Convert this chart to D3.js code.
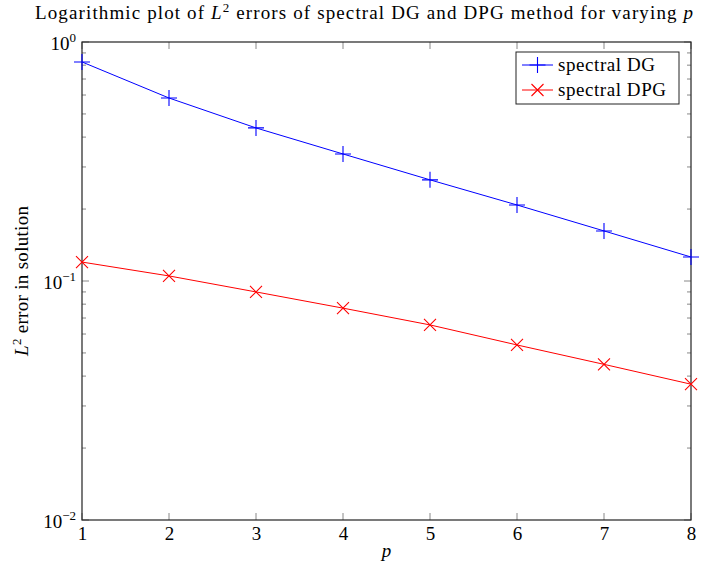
<!DOCTYPE html>
<html>
<head>
<meta charset="utf-8">
<script src="https://cdn.jsdelivr.net/npm/d3@7"></script>
<style>
    body { margin: 0; background: #fff; }
    svg text { font-family: "Liberation Serif", "DejaVu Serif", serif; fill: #000; }
    .axis path, .axis line { stroke: #333; }
    .tick text { font-size: 19px; font-family: "Liberation Serif", serif; }
</style>
</head>
<body>
<div class="chart-ctn"></div>
<script>
const pValues = [1, 2, 3, 4, 5, 6, 7, 8];
const dgErrors = [0.825, 0.583, 0.437, 0.340, 0.265, 0.208, 0.162, 0.126];
const dpgErrors = [0.120, 0.105, 0.090, 0.077, 0.0655, 0.054, 0.0448, 0.037];
const yTickExps = [0, -1, -2];

const w = 701, h = 565;
const padding = { left: 82, right: 10, top: 42, bottom: 45 };

let svg = d3.select('.chart-ctn')
    .append('svg')
    .attr('width', w)
    .attr('height', h);

let x = d3.scaleLinear()
    .domain([1, 8])
    .range([padding.left, w - padding.right]);

let y = d3.scaleLog()
    .domain([0.01, 1])
    .range([h - padding.bottom, padding.top]);

// minor log ticks
const minorTicks = [];
[0.01, 0.1].forEach(base => {
    for (let k = 2; k <= 9; k++) minorTicks.push(base * k);
});

const x0 = x.range()[0], x1 = x.range()[1];
const y0 = y.range()[0], y1 = y.range()[1];

const ticks = svg.append('g').attr('stroke', '#888').attr('stroke-width', 1);
minorTicks.forEach(v => {
    ticks.append('line').attr('x1', x0).attr('x2', x0 + 4).attr('y1', y(v)).attr('y2', y(v));
    ticks.append('line').attr('x1', x1).attr('x2', x1 - 4).attr('y1', y(v)).attr('y2', y(v));
});
yTickExps.forEach(e => {
    const v = Math.pow(10, e);
    ticks.append('line').attr('x1', x0).attr('x2', x0 + 7).attr('y1', y(v)).attr('y2', y(v));
    ticks.append('line').attr('x1', x1).attr('x2', x1 - 7).attr('y1', y(v)).attr('y2', y(v));
});
pValues.forEach(p => {
    ticks.append('line').attr('x1', x(p)).attr('x2', x(p)).attr('y1', y0).attr('y2', y0 - 7);
    ticks.append('line').attr('x1', x(p)).attr('x2', x(p)).attr('y1', y1).attr('y2', y1 + 7);
});

// frame
svg.append('rect')
    .attr('x', x0).attr('y', y1)
    .attr('width', x1 - x0).attr('height', y0 - y1)
    .attr('fill', 'none')
    .attr('stroke', '#222')
    .attr('stroke-width', 1.2);

// x tick labels
const xAxis = d3.axisBottom(x).tickValues(pValues).tickSize(0).tickPadding(7).tickFormat(d3.format('d'));
svg.append('g')
    .attr('class', 'axis')
    .attr('transform', 'translate(0,' + y0 + ')')
    .call(xAxis)
    .call(g => g.select('.domain').remove());

// y tick labels 10^e
yTickExps.forEach(e => {
    const t = svg.append('text')
        .attr('x', x0 - 6)
        .attr('y', y(Math.pow(10, e)) + 8)
        .attr('text-anchor', 'end')
        .style('font-size', '19px');
    t.append('tspan').text('10');
    t.append('tspan').attr('dy', -8).style('font-size', '13px').text(e === 0 ? '0' : '\u2212' + Math.abs(e));
});

// lines
const series = [
    { name: 'spectral DG', data: dgErrors, color: '#0000ff', marker: 'plus' },
    { name: 'spectral DPG', data: dpgErrors, color: '#ff0000', marker: 'cross' }
];

function drawMarker(g, type, cx, cy, color) {
    if (type === 'plus') {
        const s = 8;
        g.append('path')
            .attr('d', `M${cx - s},${cy}H${cx + s}M${cx},${cy - s}V${cy + s}`)
            .attr('stroke', color).attr('stroke-width', 1.1).attr('fill', 'none');
    } else {
        const s = 6;
        g.append('path')
            .attr('d', `M${cx - s},${cy - s}L${cx + s},${cy + s}M${cx - s},${cy + s}L${cx + s},${cy - s}`)
            .attr('stroke', color).attr('stroke-width', 1.1).attr('fill', 'none');
    }
}

series.forEach(s => {
    svg.append('path')
        .datum(s.data)
        .attr('fill', 'none')
        .attr('stroke', s.color)
        .attr('stroke-width', 1)
        .attr('d', d3.line()
            .x((d, i) => x(pValues[i]))
            .y(d => y(d)));
    const g = svg.append('g');
    s.data.forEach((d, i) => drawMarker(g, s.marker, x(pValues[i]), y(d), s.color));
});

// legend
const lg = svg.append('g');
lg.append('rect')
    .attr('x', 516).attr('y', 52)
    .attr('width', 163).attr('height', 52)
    .attr('fill', '#fff').attr('stroke', '#222').attr('stroke-width', 1);
const legendLen = [97, 108];
series.forEach((s, i) => {
    const ly = 65 + i * 25;
    lg.append('line').attr('x1', 522).attr('x2', 553).attr('y1', ly).attr('y2', ly)
        .attr('stroke', s.color).attr('stroke-width', 1);
    drawMarker(lg, s.marker, 537.5, ly, s.color);
    lg.append('text').attr('x', 558).attr('y', ly + 6)
        .attr('textLength', legendLen[i]).attr('lengthAdjust', 'spacing')
        .style('font-size', '19px').text(s.name);
});

// title
const title = svg.append('text')
    .attr('x', 35)
    .attr('y', 19)
    .attr('textLength', 658)
    .attr('lengthAdjust', 'spacing')
    .style('font-size', '19px');
title.append('tspan').text('Logarithmic plot of ');
title.append('tspan').style('font-style', 'italic').text('L');
title.append('tspan').attr('dy', -7).style('font-size', '13px').text('2');
title.append('tspan').attr('dy', 7).text(' errors of spectral DG and DPG method for varying ');
title.append('tspan').style('font-style', 'italic').text('p');

// axis labels
svg.append('text')
    .attr('x', (x0 + x1) / 2)
    .attr('y', 557)
    .attr('text-anchor', 'middle')
    .style('font-size', '19px')
    .style('font-style', 'italic')
    .text('p');

const yl = svg.append('text')
    .attr('transform', 'translate(28,' + ((y0 + y1) / 2) + ') rotate(-90)')
    .attr('text-anchor', 'middle')
    .attr('textLength', 150)
    .attr('lengthAdjust', 'spacing')
    .style('font-size', '19px');
yl.append('tspan').style('font-style', 'italic').text('L');
yl.append('tspan').attr('dy', -7).style('font-size', '13px').text('2');
yl.append('tspan').attr('dy', 7).text(' error in solution');
</script>
</body>
</html>
